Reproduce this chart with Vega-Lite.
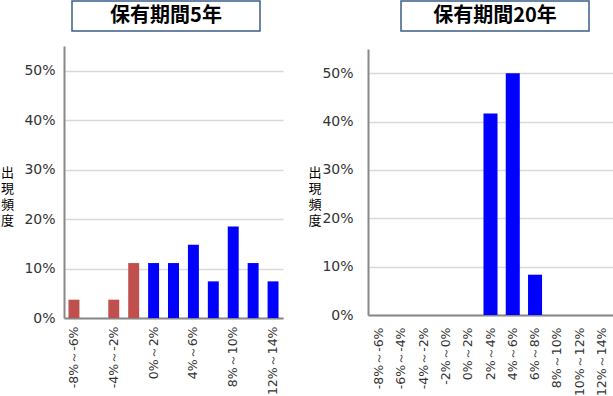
{
  "$schema": "https://vega.github.io/schema/vega-lite/v6.json",
  "padding": 0,
  "background": "white",
  "datasets": {
    "y5": [
      {"range": "-8%～-6%", "value": 0.037037, "sign": "neg"},
      {"range": "-6%～-4%", "value": 0, "sign": "neg"},
      {"range": "-4%～-2%", "value": 0.037037, "sign": "neg"},
      {"range": "-2%～0%", "value": 0.111111, "sign": "neg"},
      {"range": "0%～2%", "value": 0.111111, "sign": "pos"},
      {"range": "2%～4%", "value": 0.111111, "sign": "pos"},
      {"range": "4%～6%", "value": 0.148148, "sign": "pos"},
      {"range": "6%～8%", "value": 0.074074, "sign": "pos"},
      {"range": "8%～10%", "value": 0.185185, "sign": "pos"},
      {"range": "10%～12%", "value": 0.111111, "sign": "pos"},
      {"range": "12%～14%", "value": 0.074074, "sign": "pos"}
    ],
    "y20": [
      {"range": "-8%～-6%", "value": 0, "sign": "neg"},
      {"range": "-6%～-4%", "value": 0, "sign": "neg"},
      {"range": "-4%～-2%", "value": 0, "sign": "neg"},
      {"range": "-2%～0%", "value": 0, "sign": "neg"},
      {"range": "0%～2%", "value": 0, "sign": "pos"},
      {"range": "2%～4%", "value": 0.416667, "sign": "pos"},
      {"range": "4%～6%", "value": 0.5, "sign": "pos"},
      {"range": "6%～8%", "value": 0.083333, "sign": "pos"},
      {"range": "8%～10%", "value": 0, "sign": "pos"},
      {"range": "10%～12%", "value": 0, "sign": "pos"},
      {"range": "12%～14%", "value": 0, "sign": "pos"}
    ],
    "t5": [{"t": "保有期間5年"}],
    "t20": [{"t": "保有期間20年"}],
    "none": []
  },
  "spacing": 24,
  "hconcat": [
    {
      "spacing": 14,
      "vconcat": [
        {
          "spacing": 0,
          "hconcat": [
            {"width": 7, "height": 30, "data": {"name": "none"}, "mark": "text", "encoding": {"text": {"value": ""}}},
            {"width": 188, "height": 30, "data": {"name": "t5"},
             "view": {"stroke": "#3B5E8C", "strokeWidth": 1.5},
             "mark": {"type": "text", "font": "Noto Sans CJK JP", "fontWeight": "bold", "fontSize": 20, "color": "black"},
             "encoding": {"text": {"field": "t"}}}
          ]
        },
        {
          "width": 219, "height": 272,
          "data": {"name": "y5"},
          "mark": {"type": "bar"},
          "encoding": {
            "x": {"field": "range", "type": "nominal", "sort": null,
                  "scale": {"paddingInner": 0.45},
                  "axis": {"title": null, "labelAngle": -90, "values": ["-8%～-6%", "-4%～-2%", "0%～2%", "4%～6%", "8%～10%", "12%～14%"],
                           "ticks": false, "domainColor": "#888", "domainWidth": 2, "labelPadding": 8,
                           "labelFont": "DejaVu Sans", "labelFontSize": 12.5, "labelColor": "#333"}},
            "y": {"field": "value", "type": "quantitative",
                  "scale": {"domain": [0, 0.55], "nice": false},
                  "axis": {"values": [0, 0.1, 0.2, 0.3, 0.4, 0.5], "format": ".0%", "ticks": false,
                           "grid": true, "gridColor": "#d9d9d9", "gridWidth": 1.5,
                           "domainColor": "#888", "domainWidth": 2, "labelPadding": 9,
                           "labelFont": "DejaVu Sans", "labelFontSize": 14, "labelColor": "#333",
                           "title": ["出", "現", "頻", "度"], "titleAngle": 0, "titleX": -57, "titleY": 126,
                           "titleAlign": "center", "titleBaseline": "middle", "titleFont": "Noto Sans CJK JP",
                           "titleFontSize": 13, "titleFontWeight": "normal", "titleLineHeight": 16, "titleColor": "black"}},
            "color": {"field": "sign", "type": "nominal", "legend": null,
                      "scale": {"domain": ["neg", "pos"], "range": ["#C0504D", "#0000FF"]}}
          }
        }
      ]
    },
    {
      "spacing": 17,
      "vconcat": [
        {
          "spacing": 0,
          "hconcat": [
            {"width": 32, "height": 30, "data": {"name": "none"}, "mark": "text", "encoding": {"text": {"value": ""}}},
            {"width": 188, "height": 30, "data": {"name": "t20"},
             "view": {"stroke": "#3B5E8C", "strokeWidth": 1.5},
             "mark": {"type": "text", "font": "Noto Sans CJK JP", "fontWeight": "bold", "fontSize": 20, "color": "black"},
             "encoding": {"text": {"field": "t"}}}
          ]
        },
        {
          "width": 245, "height": 266,
          "data": {"name": "y20"},
          "mark": {"type": "bar"},
          "encoding": {
            "x": {"field": "range", "type": "nominal", "sort": null,
                  "scale": {"paddingInner": 0.37},
                  "axis": {"title": null, "labelAngle": -90,
                           "ticks": false, "domainColor": "#888", "domainWidth": 2, "labelPadding": 12,
                           "labelFont": "DejaVu Sans", "labelFontSize": 12.5, "labelColor": "#333"}},
            "y": {"field": "value", "type": "quantitative",
                  "scale": {"domain": [0, 0.55], "nice": false},
                  "axis": {"values": [0, 0.1, 0.2, 0.3, 0.4, 0.5], "format": ".0%", "ticks": false,
                           "grid": true, "gridColor": "#d9d9d9", "gridWidth": 1.5,
                           "domainColor": "#888", "domainWidth": 2, "labelPadding": 15,
                           "labelFont": "DejaVu Sans", "labelFontSize": 14, "labelColor": "#333",
                           "title": ["出", "現", "頻", "度"], "titleAngle": 0, "titleX": -53.5, "titleY": 123,
                           "titleAlign": "center", "titleBaseline": "middle", "titleFont": "Noto Sans CJK JP",
                           "titleFontSize": 13, "titleFontWeight": "normal", "titleLineHeight": 16, "titleColor": "black"}},
            "color": {"field": "sign", "type": "nominal", "legend": null,
                      "scale": {"domain": ["neg", "pos"], "range": ["#C0504D", "#0000FF"]}}
          }
        }
      ]
    }
  ],
  "config": {"view": {"stroke": null}}
}
